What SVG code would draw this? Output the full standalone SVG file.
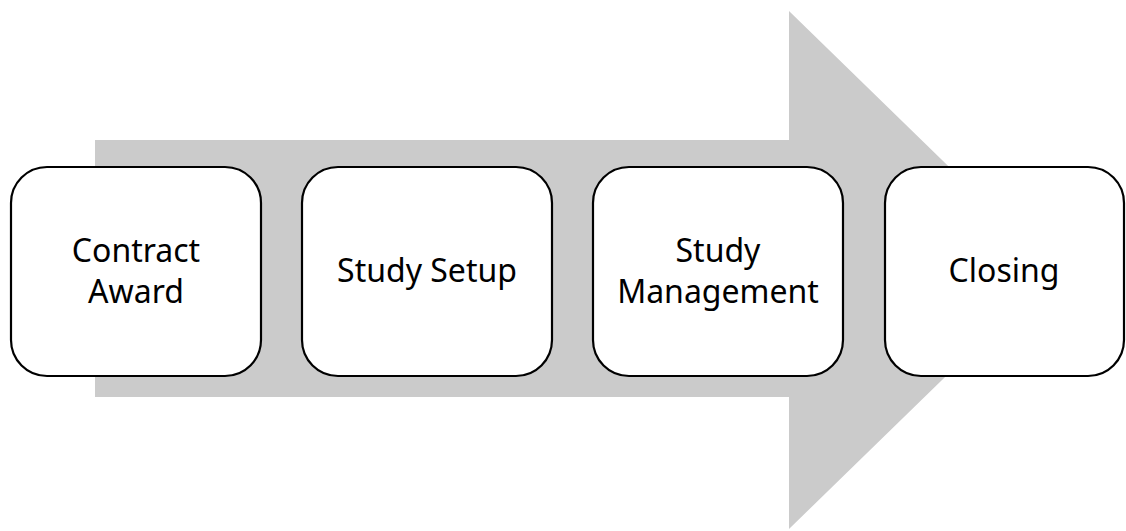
<svg xmlns="http://www.w3.org/2000/svg" width="1126" height="531" viewBox="0 0 1126 531">
  <style>
    .step { fill: #ffffff; stroke: #000000; stroke-width: 2.2; }
    .label { font-family: "Noto Sans", "Open Sans", sans-serif; font-size: 32px; fill: #000000; text-anchor: middle; }
  </style>
  <rect width="1126" height="531" fill="#ffffff"/>
  <!-- background process arrow -->
  <g id="flow-arrow">
    <path d="M95,140 H789 V11 L1055,270 L789,529 V397 H95 Z" fill="#cbcbcb"/>
  </g>
  <g id="connectors"/>
  <g id="contract-award">
    <rect class="step" x="11" y="167" width="250" height="209" rx="36" ry="36"/>
    <text class="label" x="136" y="262">Contract</text>
    <text class="label" x="136" y="303">Award</text>
  </g>
  <g id="study-setup">
    <rect class="step" x="302" y="167" width="250" height="209" rx="36" ry="36"/>
    <text class="label" x="427" y="282">Study Setup</text>
  </g>
  <g id="study-management">
    <rect class="step" x="593" y="167" width="250" height="209" rx="36" ry="36"/>
    <text class="label" x="718" y="262">Study</text>
    <text class="label" x="718" y="303">Management</text>
  </g>
  <g id="closing">
    <rect class="step" x="885" y="167" width="239" height="209" rx="36" ry="36"/>
    <text class="label" x="1004" y="282">Closing</text>
  </g>
</svg>
